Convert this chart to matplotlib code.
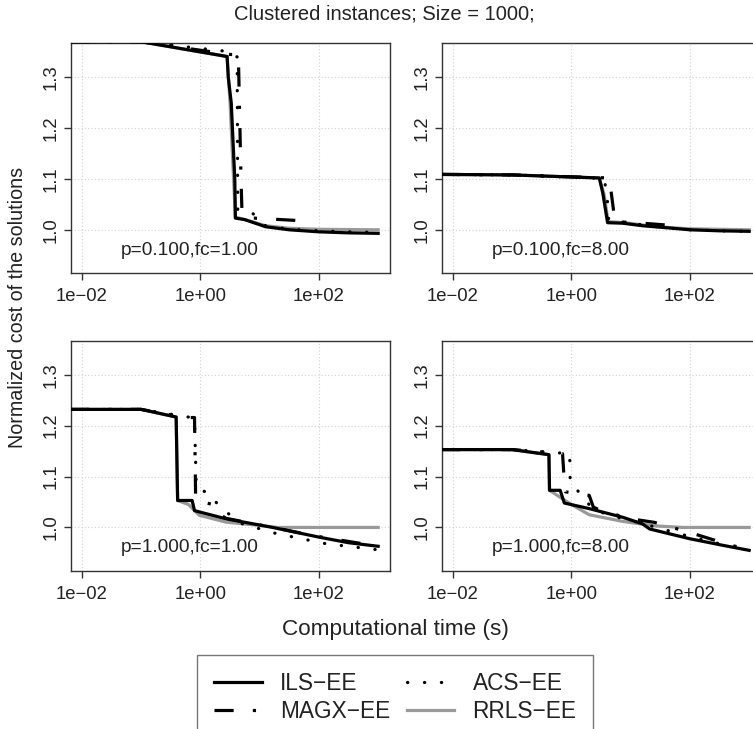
import numpy as np
import matplotlib
matplotlib.use("Agg")
import matplotlib.pyplot as plt
from matplotlib.lines import Line2D

plt.rcParams['font.family'] = ['Liberation Sans', 'DejaVu Sans']

W, H = 753, 729

# times are stored as log10(seconds)
panel_labels = ["p=0.100,fc=1.00", "p=0.100,fc=8.00", "p=1.000,fc=1.00", "p=1.000,fc=8.00"]
series_names = ["ILS-EE", "MAGX-EE", "ACS-EE", "RRLS-EE"]

# p=0.100, fc=1.00
tl_ils_t = [-2.2, -1.0, 0.45, 0.47, 0.52, 0.58, 0.59, 0.75, 1.1, 1.5, 2.0, 2.5, 3.0]
tl_ils_y = [1.37, 1.37, 1.341, 1.30, 1.25, 1.10, 1.023, 1.02, 1.006, 1.0, 0.996, 0.994, 0.993]
tl_magx_t = [-2.2, -1.0, 0.5, 0.64, 0.685, 0.70, 0.75, 1.84]
tl_magx_y = [1.37, 1.37, 1.345, 1.345, 1.10, 1.04, 1.024, 1.017]
tl_acs_t = [-2.2, -1.0, 0.53, 0.62, 0.63, 0.85, 1.1, 1.5, 2.0, 2.5, 3.0]
tl_acs_y = [1.375, 1.37, 1.35, 1.34, 1.04, 1.036, 1.008, 1.001, 0.998, 0.996, 0.995]
tl_rrls_t = [-2.2, -1.0, 0.45, 0.5, 0.59, 0.75, 1.1, 1.5, 2.0, 3.0]
tl_rrls_y = [1.37, 1.37, 1.341, 1.25, 1.025, 1.02, 1.008, 1.003, 1.001, 1.0]

# p=0.100, fc=8.00
tr_ils_t = [-2.2, -1.0, 0.47, 0.53, 0.61, 0.865, 1.2, 1.71, 2.0, 2.5, 3.0]
tr_ils_y = [1.109, 1.108, 1.102, 1.072, 1.014, 1.013, 1.008, 1.003, 1.0, 0.998, 0.997]
tr_magx_t = [-2.2, -1.0, 0.64, 0.72, 0.74, 1.2, 1.76]
tr_magx_y = [1.109, 1.108, 1.102, 1.03, 1.016, 1.013, 1.008]
tr_acs_t = [-2.2, -1.0, 0.55, 0.6, 0.63, 0.9, 1.3, 1.7, 2.0, 2.5, 3.0]
tr_acs_y = [1.109, 1.108, 1.101, 1.07, 1.017, 1.015, 1.008, 1.003, 1.0, 0.998, 0.997]
tr_rrls_t = [-2.2, -1.0, 0.47, 0.55, 0.62, 0.9, 1.3, 1.7, 2.0, 3.0]
tr_rrls_y = [1.109, 1.108, 1.102, 1.07, 1.016, 1.014, 1.008, 1.004, 1.002, 1.0]

# p=1.000, fc=1.00
bl_ils_t = [-2.2, -1.0, -0.41, -0.385, -0.14, -0.1, 0.43, 1.22, 2.0, 2.5, 3.0]
bl_ils_y = [1.232, 1.232, 1.217, 1.053, 1.053, 1.033, 1.017, 1.0, 0.981, 0.97, 0.963]
bl_magx_t = [-2.2, -1.0, -0.25, -0.1, -0.08, 0.29, 0.35, 0.43, 1.22, 2.0, 3.0]
bl_magx_y = [1.232, 1.232, 1.216, 1.216, 1.053, 1.043, 1.024, 1.018, 1.0, 0.982, 0.963]
bl_acs_t = [-2.2, -1.0, -0.1, -0.07, 0.18, 0.32, 0.71, 1.28, 2.12, 3.0]
bl_acs_y = [1.232, 1.232, 1.215, 1.079, 1.064, 1.04, 1.007, 0.988, 0.968, 0.956]
bl_rrls_t = [-2.2, -1.0, -0.41, -0.385, -0.2, -0.02, 0.43, 1.0, 1.3, 3.0]
bl_rrls_y = [1.232, 1.232, 1.217, 1.053, 1.045, 1.024, 1.0105, 1.004, 1.0, 1.0]

# p=1.000, fc=8.00
br_ils_t = [-2.2, -1.0, -0.38, -0.37, -0.19, -0.12, 0.30, 0.865, 1.2, 1.32, 1.99, 2.55, 3.0]
br_ils_y = [1.153, 1.153, 1.143, 1.073, 1.073, 1.048, 1.037, 1.020, 1.007, 0.997, 0.978, 0.965, 0.955]
br_magx_t = [-2.2, -1.0, -0.15, -0.12, -0.1, 0.3, 0.37, 0.5, 1.0, 1.4, 2.0, 2.5, 3.0]
br_magx_y = [1.153, 1.153, 1.145, 1.09, 1.07, 1.063, 1.04, 1.033, 1.017, 1.01, 0.99, 0.972, 0.955]
br_acs_t = [-2.2, -1.0, -0.03, -0.02, 0.16, 0.33, 0.6, 1.0, 1.5, 2.0, 2.5, 3.0]
br_acs_y = [1.153, 1.153, 1.145, 1.086, 1.066, 1.04, 1.025, 1.014, 0.998, 0.982, 0.968, 0.955]
br_rrls_t = [-2.2, -1.0, -0.38, -0.37, -0.2, 0.0, 0.3, 0.86, 1.42, 1.88, 3.0]
br_rrls_y = [1.153, 1.153, 1.143, 1.073, 1.06, 1.045, 1.025, 1.012, 1.003, 1.0, 1.0]

panels = [
    [(tl_ils_t, tl_ils_y), (tl_magx_t, tl_magx_y), (tl_acs_t, tl_acs_y), (tl_rrls_t, tl_rrls_y)],
    [(tr_ils_t, tr_ils_y), (tr_magx_t, tr_magx_y), (tr_acs_t, tr_acs_y), (tr_rrls_t, tr_rrls_y)],
    [(bl_ils_t, bl_ils_y), (bl_magx_t, bl_magx_y), (bl_acs_t, bl_acs_y), (bl_rrls_t, bl_rrls_y)],
    [(br_ils_t, br_ils_y), (br_magx_t, br_magx_y), (br_acs_t, br_acs_y), (br_rrls_t, br_rrls_y)],
]

lw = 2.3
styles = {
    "ILS-EE": dict(color="black", lw=lw, ls="-", zorder=4),
    "MAGX-EE": dict(color="black", lw=lw, ls=(0, (6, 6, 1, 6)), zorder=3),
    "ACS-EE": dict(color="black", lw=lw, ls=(0, (0.1, 5.2)), zorder=3, dash_capstyle="round"),
    "RRLS-EE": dict(color="#999999", lw=lw, ls="-", zorder=2),
}

fig = plt.figure(figsize=(W / 100, H / 100), dpi=100)

# axes boxes in pixels: left, top, right, bottom
boxes = [(70.7, 43.3, 390, 273), (441.7, 43.3, 761, 273),
         (70.7, 340.7, 390, 570.7), (441.7, 340.7, 761, 570.7)]

for i, (l, t, r, b) in enumerate(boxes):
    ax = fig.add_axes([l / W, 1 - b / H, (r - l) / W, (b - t) / H])
    for name, (ts, ys) in zip(series_names, panels[i]):
        ax.plot(10 ** np.array(ts), ys, **styles[name])
    ax.set_xscale("log")
    ax.set_xlim(10 ** -2.19, 10 ** 3.2)
    ax.set_ylim(0.915, 1.367)
    ax.set_xticks([1e-2, 1e0, 1e2])
    ax.set_xticklabels(["1e\u221202", "1e+00", "1e+02"])
    ax.xaxis.set_minor_locator(matplotlib.ticker.NullLocator())
    ax.set_yticks([1.0, 1.1, 1.2, 1.3])
    ax.set_yticklabels(["1.0", "1.1", "1.2", "1.3"], rotation=90, va="center")
    ax.grid(True, color="#d3d3d3", ls=(0, (1, 2)), lw=0.8)
    ax.set_axisbelow(True)
    for s in ax.spines.values():
        s.set_color("#333333")
        s.set_linewidth(1.0)
    ax.tick_params(axis="both", length=5, width=1, color="#333333", labelsize=13.3,
                   labelcolor="#222222")
    ax.tick_params(axis="x", pad=6)
    ax.tick_params(axis="y", pad=3)
    ax.text(0.374, 0.10, panel_labels[i], transform=ax.transAxes, ha="center", va="center",
            fontsize=13.8, color="#222222")

fig.text(384 / W, 1 - 14 / H, "Clustered instances; Size = 1000;", ha="center", va="center",
         fontsize=14.5, color="#222222")
fig.text(395 / W, 1 - 630 / H, "Computational time (s)", ha="center", va="center",
         fontsize=16.2, color="#222222")
fig.text(18 / W, 1 - 307 / H, "Normalized cost of the solutions", ha="center", va="center",
         rotation=90, fontsize=14.2, color="#222222")

handles = [Line2D([], [], **{k: v for k, v in styles[n].items() if k != "zorder"}) for n in series_names]
leg = fig.legend(handles, ["ILS\u2212EE", "MAGX\u2212EE", "ACS\u2212EE", "RRLS\u2212EE"],
                 ncol=2, loc="upper left", bbox_to_anchor=(197 / W, 1 - 655 / H),
                 borderaxespad=0, fancybox=False, frameon=True, fontsize=16.3,
                 handlelength=2.1, columnspacing=0.75, borderpad=0.75, labelspacing=0.22,
                 handletextpad=0.8)
leg.get_frame().set_edgecolor("#555555")
leg.get_frame().set_linewidth(1.0)
for txt in leg.get_texts():
    txt.set_color("#222222")

fig.savefig("out.png", dpi=100)
